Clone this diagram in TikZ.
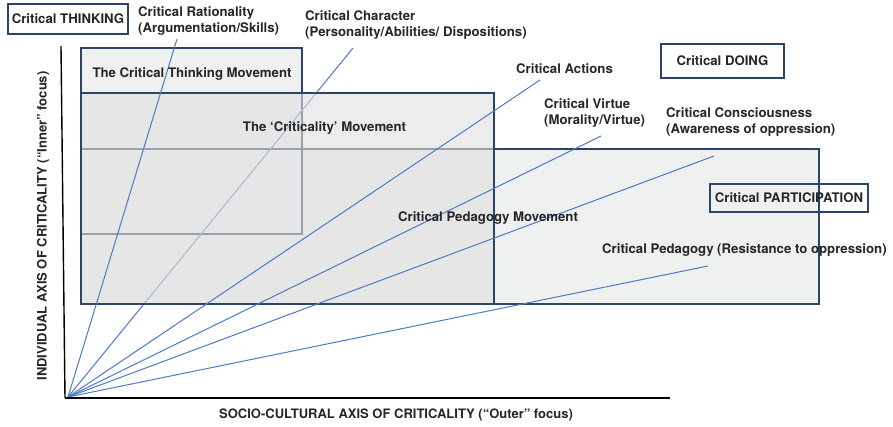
\documentclass[tikz,border=0pt]{standalone}
\usepackage{fontspec}
\setmainfont{TeX Gyre Heros}
\definecolor{navy}{HTML}{2C4566}
\definecolor{ray}{HTML}{4A7BC3}
\definecolor{panel}{HTML}{EFF0F0}
\definecolor{veil}{HTML}{E0E0E0}
\tikzset{
  lab/.style={font=\bfseries\fontsize{13.2}{16}\selectfont, inner sep=0pt, align=left, text=black!85},
  axislab/.style={lab, font=\bfseries\fontsize{13}{16}\selectfont},
  tagbox/.style={lab, draw=navy, line width=1.3pt},
  movement/.style={draw=navy, line width=2.8pt},
  rayline/.style={ray, line width=1pt}
}
\begin{document}
\begin{tikzpicture}[x=1pt, y=-1pt]
\useasboundingbox (0,0) rectangle (893,427);
\def\xl{81};
\def\xct{302};
\def\xcr{494};
\def\xcp{819};

\def \yct{48};
\def \ycr{93};
\def \ycp{149};
\def \ycb{234};
\def \ybot{304};

% movements
\fill[panel] (\xl, \yct) rectangle (\xct, \ycb);
\fill[panel] (\xl, \ycp) rectangle (\xcp, \ybot);
\draw[movement] (\xl, \yct) rectangle (\xct, \ycb);
\draw[movement] (\xl, \ycp) rectangle (\xcp, \ybot);

\coordinate (o) at (68, 397);
\coordinate (character) at (353, 48);
\draw[rayline] (o) -- (character);

\fill[veil, fill opacity=0.6] (\xl, \ycr) rectangle (\xcr, \ybot);
\draw[movement] (\xl, \ycr) rectangle (\xcr, \ybot);

% rays
\coordinate (rationality) at (177, 39);
\coordinate (actions) at (540, 80);
\coordinate (virtue) at (601, 136);
\coordinate (consciousness) at (714, 156);
\coordinate (pedagogy) at (708, 266);
\foreach \e in {rationality, actions, virtue, consciousness, pedagogy}
  \draw[rayline] (o) -- (\e);

% axes
\coordinate (xend) at (670, 398);
\coordinate (yend) at (61, 46);
\coordinate (corner) at (65, 398);
\draw[black, line width=2.6pt] (corner) -- (xend);
\draw[black, line width=1.4pt] (corner) -- (yend);

\node[axislab, rotate=90] (ylab) at (43, 226) {INDIVIDUAL AXIS OF CRITICALITY (“Inner” focus)};
\node[axislab] (xlab) at (396, 415) {SOCIO-CULTURAL AXIS OF CRITICALITY (“Outer” focus)};

% labels
\node[tagbox, minimum width=120pt, minimum height=30pt] (thinking) at (68, 19) {Critical THINKING};
\node[tagbox, minimum width=123pt, minimum height=34pt] (doing) at (722.5, 61) {Critical DOING};
\node[tagbox, minimum width=158pt, minimum height=28pt] (participation) at (789, 198) {Critical PARTICIPATION};

\node[lab, anchor=west] (lrat) at (138, 21) {Critical Rationality\\(Argumentation/Skills)};
\node[lab, anchor=west] (lchar) at (305, 25) {Critical Character\\(Personality/Abilities/ Dispositions)};
\node[lab, anchor=west] (lact) at (516, 69) {Critical Actions};
\node[lab, anchor=west] (lvir) at (544, 113) {Critical Virtue\\(Morality/Virtue)};
\node[lab, anchor=west] (lcon) at (666, 122) {Critical Consciousness\\(Awareness of oppression)};
\node[lab, anchor=west] (lped) at (602, 250) {Critical Pedagogy (Resistance to oppression)};

\node[lab] (mct) at (192, 74) {The Critical Thinking Movement};
\node[lab] (mcr) at (324.5, 128) {The ‘Criticality’ Movement};
\node[lab] (mcp) at (488, 218) {Critical Pedagogy Movement};

\end{tikzpicture}
\end{document}
